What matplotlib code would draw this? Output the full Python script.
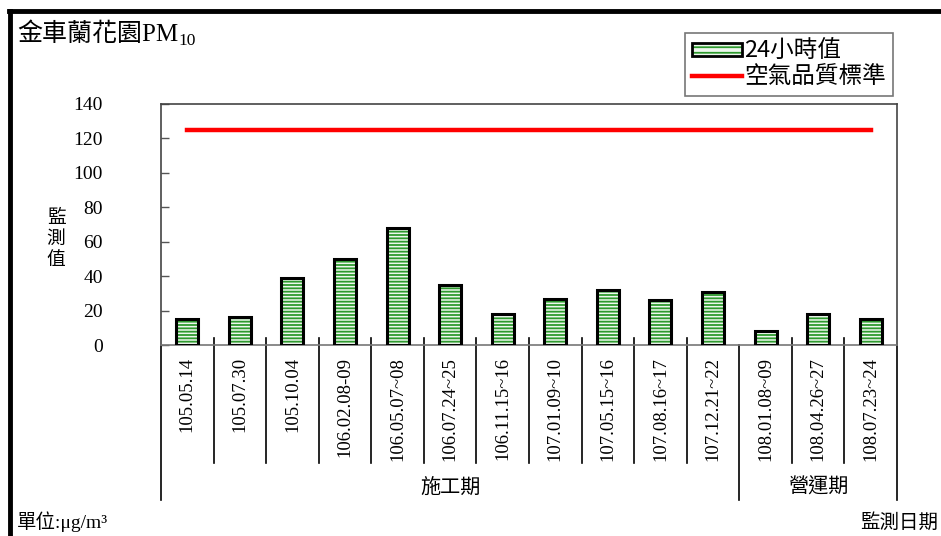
import matplotlib
matplotlib.use("Agg")
import matplotlib.pyplot as plt
from matplotlib.patches import Patch
from matplotlib.lines import Line2D
from matplotlib.legend_handler import HandlerTuple
from matplotlib.transforms import blended_transform_factory
import matplotlib as mpl

mpl.rcParams['hatch.linewidth'] = 1.3

CJK = ['Noto Sans CJK TC', 'DejaVu Sans']
SERIF = ['Liberation Serif', 'DejaVu Serif']
MIX = ['Liberation Serif', 'Noto Sans CJK TC', 'DejaVu Sans']

dates = ["105.05.14", "105.07.30", "105.10.04", "106.02.08-09", "106.05.07~08",
         "106.07.24~25", "106.11.15~16", "107.01.09~10", "107.05.15~16",
         "107.08.16~17", "107.12.21~22", "108.01.08~09", "108.04.26~27", "108.07.23~24"]
values = [15, 16, 39, 50, 68, 35, 18, 27, 32, 26, 31, 8, 18, 15]
standard = [125] * len(dates)
groups = ["施工期", "營運期"]
group_sizes = [11, 3]
yticks = [0, 20, 40, 60, 80, 100, 120, 140]

GREEN = '#2e9a2e'
W, H = 941, 536
fig = plt.figure(figsize=(W / 100, H / 100), dpi=100)
ax = fig.add_axes([161 / W, 1 - 345 / H, (897 - 161) / W, (345 - 104) / H])

x = list(range(len(dates)))
ax.bar(x, values, width=0.42, facecolor='#eef7ee', edgecolor=GREEN,
       linewidth=0, hatch='-----', zorder=3)
ax.bar(x, values, width=0.42, facecolor='none', edgecolor='black',
       linewidth=2.2, zorder=3.5)
ax.plot(x, standard, color='#ff0000', linewidth=3.2, zorder=4)

ax.set_xlim(-0.5, len(dates) - 0.5)
ax.set_ylim(0, 140)
ax.set_yticks(yticks)
ax.set_yticklabels([str(v) for v in yticks], fontfamily=SERIF, fontsize=14)
ax.tick_params(axis='y', direction='in', length=6, width=1, color='#555555', pad=42)
ax.set_xticks([])
for s in ['top', 'right', 'left']:
    ax.spines[s].set_color('#444444')
    ax.spines[s].set_linewidth(1.2)
ax.spines['bottom'].set_color('#777777')
ax.spines['bottom'].set_linewidth(1.2)

trans = blended_transform_factory(ax.transData, ax.transAxes)
ah = 345 - 104
for xi, d in zip(x, dates):
    ax.text(xi, -12 / ah, d, transform=trans, rotation=90, ha='center', va='top',
            fontfamily=SERIF, fontsize=13.5)
group_bounds = [-0.5]
acc = -0.5
for gs in group_sizes:
    acc += gs
    group_bounds.append(acc)
for k in range(1, len(dates)):
    b = k - 0.5
    if b in group_bounds:
        continue
    ax.plot([b, b], [7 / ah, -118 / ah], transform=trans, color='black', lw=1.2, clip_on=False)
for b in group_bounds:
    ax.plot([b, b], [0, -155 / ah], transform=trans, color='black', lw=1.2, clip_on=False)
for i, g in enumerate(groups):
    c = (group_bounds[i] + group_bounds[i + 1]) / 2
    ax.text(c, -142 / ah, g, transform=trans, ha='center', va='center',
            fontfamily=CJK, fontsize=14.5)

# title with subscript
t = fig.text(17 / W, 1 - 41 / H, '金車蘭花園PM', ha='left', va='baseline',
             fontfamily=MIX, fontsize=18)
renderer = fig.canvas.get_renderer()
bb = t.get_window_extent(renderer=renderer)
fig.text(bb.x1 / W, 1 - 45 / H, '10', ha='left', va='baseline',
         fontfamily=SERIF, fontsize=12.5)

fig.text(56 / W, 1 - 238 / H, '監\n測\n值', ha='center', va='center',
         fontfamily=CJK, fontsize=13.5, linespacing=1.0)
fig.text(17 / W, 1 - 522 / H, '單位:μg/m³', ha='left', va='center',
         fontfamily=MIX, fontsize=14)
fig.text(938 / W, 1 - 522 / H, '監測日期', ha='right', va='center',
         fontfamily=CJK, fontsize=14)

h1a = Patch(facecolor='#eef7ee', edgecolor=GREEN, hatch='---', linewidth=0)
h1b = Patch(facecolor='none', edgecolor='black', linewidth=2.0)
h2 = Line2D([0], [0], color='#ff0000', linewidth=3.2)
leg = fig.legend([(h1a, h1b), h2], ['24小時值', '空氣品質標準'], loc='upper right',
                 handler_map={tuple: HandlerTuple(ndivide=1, pad=0)},
                 bbox_to_anchor=(893 / W, 1 - 33 / H), frameon=True, fancybox=False,
                 prop={'family': CJK, 'size': 17}, handlelength=2.1, handleheight=0.45,
                 handletextpad=0.1, borderpad=0.3, labelspacing=0.1, borderaxespad=0)
leg.get_frame().set_edgecolor('#555555')
leg.get_frame().set_linewidth(1.2)

fig.add_artist(Line2D([10 / W, 10 / W], [0, 1 - 11 / H], transform=fig.transFigure,
                      color='black', lw=3.5))
fig.add_artist(Line2D([9 / W, 1], [1 - 11 / H, 1 - 11 / H], transform=fig.transFigure,
                      color='black', lw=3.5))

fig.savefig('out.png', dpi=100)
